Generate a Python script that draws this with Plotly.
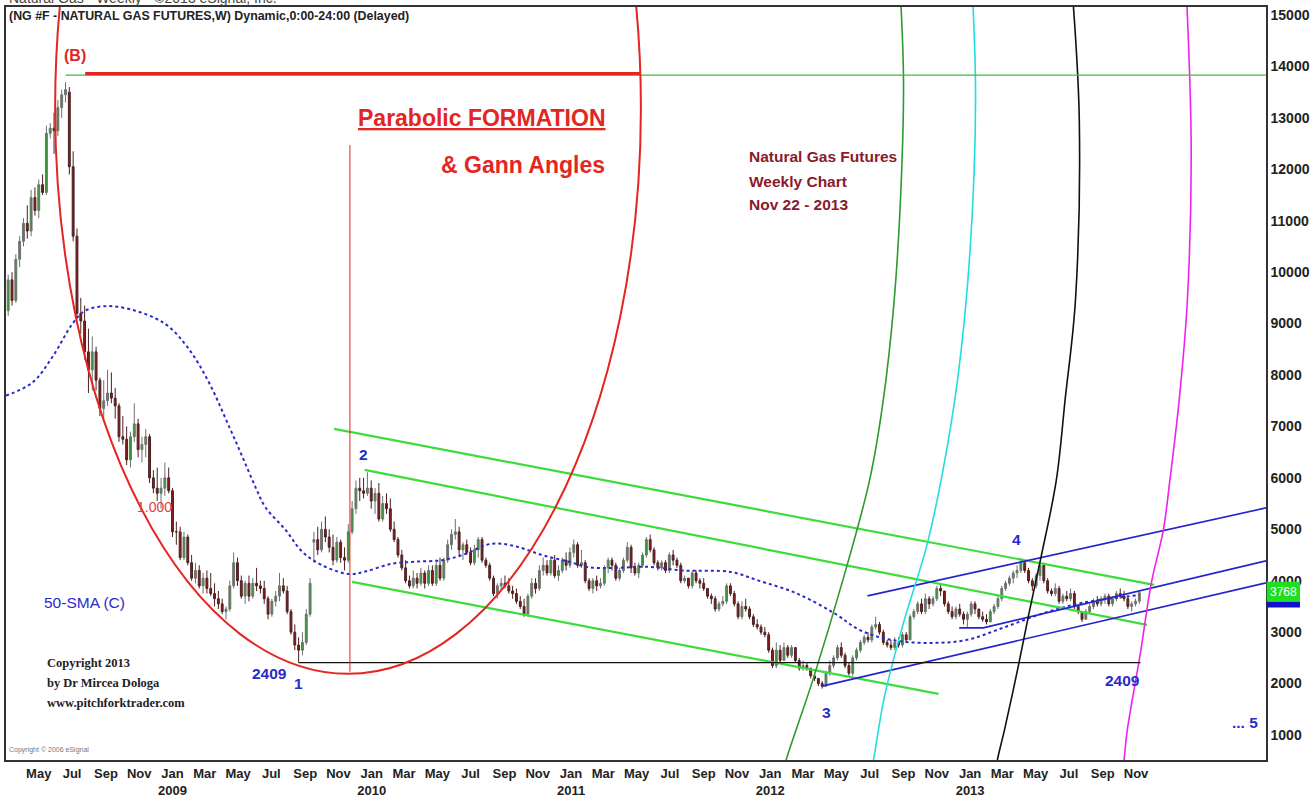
import pandas as pd
import plotly.graph_objects as go

# ---------------- data ----------------
FIRST_WEEK = "2008-03-21"
N_WEEKS = 297
week_dates = pd.date_range(FIRST_WEEK, periods=N_WEEKS, freq="W-FRI")

opens = [
    9250, 9850, 9450, 10250, 10600, 10950, 10800, 11450, 11200, 11700, 11550, 12700, 12800,
    12750, 13200, 13450, 13500, 12050, 10700, 9200, 9050, 8450, 8100, 8450, 7900, 7350,
    7500, 7650, 7550, 7400, 6800, 6750, 6350, 6800, 7050, 6550, 6650, 6800, 6000,
    5800, 5700,
    5800, 6000, 5750, 4950, 4950, 4450, 4850, 4350, 4050, 4200, 3900, 4050, 3850,
    3750, 3650, 3550, 3400, 3450, 3900, 4350, 4000, 3700, 3950, 3700, 3950, 3900,
    3850, 3650, 3350, 3600, 3700, 3900, 3800, 3400, 3000, 2750, 2650, 2800, 3350,
    4750, 4800, 4600, 5000, 4850, 4650, 4400, 4750, 4450, 4400, 4950, 5400, 5800,
    5750, 5700, 5800, 5550, 5700, 5200, 5500, 5400, 5000, 4800, 4500, 4250, 4000,
    3900, 4050, 3950, 4150, 3950, 4200, 3950, 4300, 4050, 4400, 4700, 4900, 4950,
    4600, 4700, 4550, 4350, 4600, 4800, 4400, 4300, 4050, 3750, 3900, 3950, 3900,
    3800, 3750, 3600, 3500, 3350, 3700, 3950, 3850, 4200, 4300, 4150, 4400, 4100,
    4200,
    4400, 4300, 4550, 4700, 4300, 4350, 4000, 3850, 4000, 3900, 3950, 4250, 4400,
    4300, 4050, 4200, 4400, 4650, 4250, 4150, 4300, 4500, 4800, 4600, 4350, 4250,
    4350, 4200, 4500, 4400, 4300, 4000, 4050, 3900, 4150, 4000, 3950, 3850, 3700,
    3650, 3450, 3550, 3600, 3900, 3750, 3550, 3300, 3500, 3450, 3300, 3150, 3100,
    3000, 2950, 2650, 2350, 2650, 2450, 2700, 2550, 2700, 2450, 2300, 2350, 2300,
    2150, 2100, 2000, 1950, 2200, 2350, 2500, 2700, 2550, 2350, 2200, 2500, 2650,
    2800, 2900, 2850, 3100, 3150, 3000, 2800, 2750, 2700, 2800, 2750, 2950, 2850,
    3300, 3400, 3550, 3400, 3650, 3550, 3650, 3850, 3800, 3550, 3400, 3300, 3450,
    3350, 3250, 3350, 3550, 3450, 3300, 3250, 3200, 3400, 3500, 3650, 3850, 3950,
    4050, 4150, 4200, 4350, 4200, 4000, 3900, 4100, 4300, 4000, 3800, 3750, 3850,
    3600, 3700, 3650, 3750, 3500, 3400, 3250, 3400, 3500, 3600, 3550, 3650, 3700,
    3550, 3650, 3750, 3700, 3650, 3500, 3550, 3600,
]
highs = [
    9950, 10000, 10350, 10700, 11050, 11300, 11600, 11650, 11800, 11900, 12850, 12900, 13100,
    13350, 13550, 13694, 13600, 12350, 10850, 9500, 9350, 8900, 8750, 8550, 7950, 7900,
    8100, 8050, 7750, 7450, 7200, 7000, 6900, 7450, 7150, 6800, 6950, 6850, 6150,
    6200, 6000,
    6300, 6200, 5800, 5150, 5050, 4950, 4900, 4500, 4350, 4300, 4150, 4200, 4150,
    3950, 3800, 3650, 3500, 4000, 4550, 4450, 4100, 4000, 4100, 4050, 4250, 4000,
    4000, 3700, 3650, 3800, 4150, 4050, 3900, 3450, 3150, 2900, 3000, 3450, 4050,
    4950, 5050, 5150, 5250, 5000, 4900, 4850, 4800, 4650, 5100, 5550, 5950, 6000,
    6000, 6108, 5950, 5800, 5900, 5650, 5700, 5600, 5150, 4850, 4600, 4400, 4100,
    4200, 4150, 4250, 4200, 4300, 4300, 4400, 4450, 4450, 4800, 5000, 5200, 5050,
    4750, 4800, 4650, 4700, 4850, 4850, 4450, 4350, 4100, 3950, 4050, 4100, 4050,
    3900, 3850, 3700, 3650, 3750, 4050, 4050, 4300, 4450, 4400, 4450, 4500, 4300,
    4450,
    4550, 4650, 4800, 4750, 4600, 4400, 4050, 4050, 4100, 4050, 4300, 4450, 4450,
    4350, 4250, 4450, 4750, 4700, 4350, 4350, 4550, 4850, 4900, 4650, 4400, 4400,
    4400, 4550, 4600, 4450, 4350, 4100, 4050, 4200, 4200, 4050, 4050, 3850, 3750,
    3700, 3600, 3700, 3950, 3950, 3800, 3600, 3600, 3650, 3500, 3350, 3250, 3150,
    3100, 3000, 2700, 2800, 2750, 2800, 2750, 2750, 2700, 2500, 2450, 2400, 2300,
    2200, 2100, 2050, 2250, 2450, 2550, 2750, 2800, 2600, 2400, 2550, 2700, 2850,
    2950, 3000, 3150, 3300, 3200, 3050, 2850, 2850, 2900, 2900, 3000, 3000, 3350,
    3450, 3600, 3650, 3750, 3700, 3700, 3900, 3950, 3800, 3600, 3500, 3500, 3550,
    3400, 3400, 3600, 3600, 3450, 3400, 3350, 3450, 3550, 3700, 3900, 4000, 4100,
    4200, 4300, 4440, 4400, 4250, 4050, 4150, 4350, 4350, 4050, 3850, 3950, 3900,
    3750, 3800, 3850, 3800, 3550, 3400, 3450, 3550, 3650, 3700, 3700, 3750, 3750,
    3700, 3800, 3850, 3800, 3700, 3600, 3650, 3800,
]
lows = [
    9150, 9350, 9400, 10100, 10500, 10650, 10700, 11100, 11050, 11500, 11500, 12600, 12300,
    12650, 13000, 13300, 11900, 10600, 9100, 8800, 8300, 7650, 7700, 7700, 7200, 7150,
    7400, 7450, 7150, 6700, 6650, 6250, 6200, 6700, 6400, 6300, 6400, 5900, 5700,
    5550, 5400,
    5650, 5700, 4850, 4700, 4400, 4400, 4300, 4000, 3950, 3850, 3750, 3750, 3700,
    3500, 3450, 3350, 3250, 3400, 3850, 3900, 3650, 3550, 3600, 3650, 3800, 3750,
    3550, 3250, 3300, 3500, 3600, 3750, 3350, 2950, 2650, 2409, 2550, 2750, 3300,
    4350, 4500, 4550, 4750, 4550, 4300, 4350, 4350, 4200, 4350, 4900, 5300, 5550,
    5600, 5650, 5400, 5300, 5150, 5150, 5300, 4950, 4750, 4450, 4200, 3950, 3850,
    3850, 3850, 3900, 3850, 3900, 3900, 3900, 4000, 4000, 4350, 4600, 4800, 4500,
    4400, 4500, 4300, 4300, 4450, 4350, 4250, 4000, 3700, 3650, 3800, 3850, 3750,
    3650, 3550, 3450, 3300, 3300, 3650, 3750, 3800, 4100, 4100, 4100, 4050, 4000,
    4150,
    4200, 4250, 4450, 4250, 4250, 3950, 3800, 3750, 3800, 3850, 3900, 4150, 4200,
    4000, 4000, 4150, 4350, 4150, 4100, 4050, 4250, 4450, 4550, 4300, 4200, 4200,
    4150, 4150, 4300, 4250, 3950, 3950, 3850, 3850, 3950, 3850, 3800, 3650, 3550,
    3400, 3400, 3500, 3550, 3700, 3500, 3250, 3250, 3400, 3250, 3100, 3050, 2950,
    2900, 2600, 2300, 2300, 2400, 2450, 2500, 2500, 2400, 2250, 2250, 2250, 2100,
    2050, 1950, 1902, 1950, 2150, 2300, 2450, 2500, 2300, 2150, 2150, 2450, 2600,
    2750, 2800, 2800, 3050, 2950, 2750, 2700, 2650, 2650, 2700, 2700, 2800, 2850,
    3250, 3350, 3350, 3350, 3450, 3500, 3600, 3700, 3500, 3350, 3250, 3250, 3300,
    3150, 3100, 3300, 3350, 3250, 3200, 3150, 3200, 3350, 3450, 3600, 3800, 3900,
    3950, 4050, 4150, 4150, 3950, 3800, 3850, 4000, 3950, 3750, 3700, 3700, 3550,
    3550, 3600, 3600, 3450, 3350, 3200, 3250, 3350, 3450, 3500, 3500, 3550, 3500,
    3500, 3600, 3650, 3600, 3450, 3400, 3500, 3550,
]
closes = [
    9850, 9450, 10250, 10600, 10950, 10800, 11450, 11200, 11700, 11550, 12700, 12800, 12750,
    13200, 13450, 13550, 12050, 10700, 9200, 9050, 8450, 8100, 8450, 7900, 7350, 7500,
    7650, 7550, 7400, 6800, 6750, 6350, 6800, 7050, 6550, 6650, 6800, 6000, 5800,
    5700, 5800,
    6000, 5750, 4950, 4950, 4450, 4850, 4350, 4050, 4200, 3900, 4050, 3850, 3750,
    3650, 3550, 3400, 3450, 3900, 4350, 4000, 3700, 3950, 3700, 3950, 3900, 3850,
    3650, 3350, 3600, 3700, 3900, 3800, 3400, 3000, 2750, 2650, 2800, 3350, 3950,
    4800, 4600, 5000, 4850, 4650, 4400, 4750, 4450, 4400, 4950, 5400, 5800, 5750,
    5700, 5800, 5550, 5700, 5200, 5500, 5400, 5000, 4800, 4500, 4250, 4000, 3900,
    4050, 3950, 4150, 3950, 4200, 3950, 4300, 4050, 4400, 4700, 4900, 4950, 4600,
    4700, 4550, 4350, 4600, 4800, 4400, 4300, 4050, 3750, 3900, 3950, 3900, 3800,
    3750, 3600, 3500, 3350, 3700, 3950, 3850, 4200, 4300, 4150, 4400, 4100, 4200,
    4400,
    4300, 4550, 4700, 4300, 4350, 4000, 3850, 4000, 3900, 3950, 4250, 4400, 4300,
    4050, 4200, 4400, 4650, 4250, 4150, 4300, 4500, 4800, 4600, 4350, 4250, 4350,
    4200, 4500, 4400, 4300, 4000, 4050, 3900, 4150, 4000, 3950, 3850, 3700, 3650,
    3450, 3550, 3600, 3900, 3750, 3550, 3300, 3500, 3450, 3300, 3150, 3100, 3000,
    2950, 2650, 2350, 2650, 2450, 2700, 2550, 2700, 2450, 2300, 2350, 2300, 2150,
    2100, 2000, 1950, 2200, 2350, 2500, 2700, 2550, 2350, 2200, 2500, 2650, 2800,
    2900, 2850, 3100, 3150, 3000, 2800, 2750, 2700, 2800, 2750, 2950, 2850, 3300,
    3400, 3550, 3400, 3650, 3550, 3650, 3850, 3800, 3550, 3400, 3300, 3450, 3350,
    3250, 3350, 3550, 3450, 3300, 3250, 3200, 3400, 3500, 3650, 3850, 3950, 4050,
    4150, 4200, 4350, 4200, 4000, 3900, 4100, 4300, 4000, 3800, 3750, 3850, 3600,
    3700, 3650, 3750, 3500, 3400, 3250, 3400, 3500, 3600, 3550, 3650, 3700, 3550,
    3650, 3750, 3700, 3650, 3500, 3550, 3600, 3768,
]

# 50-period simple moving average
sma_dates = ["2008-03-17", "2008-05-04", "2008-06-10", "2008-07-17", "2008-08-09", "2008-09-22",
             "2008-11-09", "2008-12-16", "2009-01-10", "2009-02-16", "2009-03-24", "2009-04-30",
             "2009-05-24", "2009-06-17", "2009-07-05", "2009-08-11", "2009-09-11", "2009-10-17",
             "2009-12-06", "2010-01-04", "2010-02-22", "2010-04-06", "2010-05-25", "2010-07-01",
             "2010-08-24", "2010-10-06", "2010-11-24", "2011-01-12", "2011-02-18", "2011-04-07",
             "2011-06-08", "2011-08-07", "2011-11-05", "2011-12-23", "2012-03-03", "2012-05-12",
             "2012-06-28", "2012-08-24", "2012-11-02", "2013-01-10", "2013-03-21", "2013-05-31",
             "2013-08-09", "2013-11-22"]
sma_values = [7600, 7850, 8350, 9000, 9250, 9340, 9250, 9100, 8935, 8490, 7850, 6990,
              6410, 5820, 5430, 4990, 4560, 4300, 4130, 4180, 4330, 4370, 4400, 4500,
              4720, 4670, 4500, 4370, 4260, 4250, 4270, 4200, 4170, 4010, 3760, 3370,
              3040, 2850, 2790, 2850, 3100, 3370, 3570, 3720]

# drawn study lines (date, price)
green_channel = {
    "upper": (["2009-11-08", "2013-12-19"], [6952, 3919]),
    "middle": (["2010-01-03", "2013-12-06"], [6155, 3142]),
    "lower": (["2009-12-11", "2012-11-19"], [3978, 1800]),
}
blue_channel = {
    "upper": (["2012-07-12", "2014-07-12"], [3705, 5416]),
    "middle": (["2012-12-27", "2013-02-09", "2014-07-12"], [3083, 3083, 4386]),
    "lower": (["2012-04-20", "2014-07-12"], [1950, 3958]),
}
time_arcs = {
    "#2e9a2e": (["2012-09-10", "2012-09-16", "2012-09-12", "2012-08-30", "2012-08-10", "2012-07-16",
                 "2012-05-28", "2012-04-03", "2012-02-14", "2012-02-07"],
                [15486, 13736, 11792, 9460, 7516, 5960, 4016, 2072, 517, 226]),
    "#22dede": (["2013-01-20", "2013-01-26", "2013-01-16", "2012-12-24", "2012-11-24", "2012-10-28",
                 "2012-09-16", "2012-08-12", "2012-07-23", "2012-07-17"],
                [15486, 13348, 10432, 7904, 5960, 4658, 3180, 1742, 517, 226]),
    "#111111": (["2013-07-22", "2013-08-04", "2013-07-28", "2013-07-09", "2013-06-23", "2013-05-26",
                 "2013-05-04", "2013-04-14", "2013-03-20", "2013-03-07", "2013-03-03"],
                [15486, 12959, 9460, 7516, 5960, 4463, 3375, 2325, 1100, 517, 226]),
    "#ee22ee": (["2014-02-16", "2014-02-25", "2014-02-18", "2014-02-03", "2014-01-17", "2014-01-05",
                 "2013-12-14", "2013-11-24", "2013-10-31", "2013-10-25", "2013-10-22"],
                [15486, 12376, 9460, 7516, 5960, 4988, 3958, 2597, 1100, 517, 226]),
}
peak_level = 13830
low_level = 2409
last_price = 3768

y_ticks = list(range(1000, 16000, 1000))
tick_months = pd.date_range("2008-05-01", "2013-11-01", freq="2MS")
tick_vals = [d + pd.Timedelta(days=15) for d in tick_months]
tick_text = [d.strftime("%b") + (f"<br>{d.year}" if d.month == 1 else "") for d in tick_months]

# ---------------- figure ----------------
SANS = "Liberation Sans, Arial, sans-serif"
SERIF = "Liberation Serif, Times New Roman, serif"
BLUE = "#2a2acc"
RED = "#e3261f"

fig = go.Figure()

fig.add_trace(go.Candlestick(
    x=week_dates, open=opens, high=highs, low=lows, close=closes,
    increasing=dict(line=dict(color="#707070", width=1), fillcolor="#2f9e2f"),
    decreasing=dict(line=dict(color="#4a2020", width=1), fillcolor="#8e1b1b"),
    whiskerwidth=0, showlegend=False, hoverinfo="skip"))

fig.add_trace(go.Scatter(x=sma_dates, y=sma_values, mode="lines", line_shape="spline",
                         line=dict(color=BLUE, width=2, dash="dot"), showlegend=False,
                         hoverinfo="skip"))

for xs, ys in green_channel.values():
    fig.add_trace(go.Scatter(x=xs, y=ys, mode="lines", line=dict(color="#3ddc3d", width=2.2),
                             showlegend=False, hoverinfo="skip"))
for xs, ys in blue_channel.values():
    fig.add_trace(go.Scatter(x=xs, y=ys, mode="lines", line=dict(color="#2424cc", width=1.6),
                             showlegend=False, hoverinfo="skip"))
for color, (xs, ys) in time_arcs.items():
    fig.add_trace(go.Scatter(x=xs, y=ys, mode="lines", line_shape="spline",
                             line=dict(color=color, width=1.6), showlegend=False, hoverinfo="skip"))

# horizontal levels
fig.add_trace(go.Scatter(x=["2008-07-04", "2014-07-20"], y=[peak_level, peak_level], mode="lines",
                         line=dict(color="#44bb44", width=1.2), showlegend=False, hoverinfo="skip"))
fig.add_trace(go.Scatter(x=["2008-08-09", "2011-05-24"], y=[peak_level + 30, peak_level + 30],
                         mode="lines", line=dict(color=RED, width=3.2), showlegend=False,
                         hoverinfo="skip"))
fig.add_trace(go.Scatter(x=["2009-09-04", "2013-11-24"], y=[low_level, low_level], mode="lines",
                         line=dict(color="#111111", width=1.2), showlegend=False, hoverinfo="skip"))
fig.add_trace(go.Scatter(x=["2009-12-07", "2009-12-07"], y=[12470, 2230], mode="lines",
                         line=dict(color=RED, width=1), showlegend=False, hoverinfo="skip"))

# parabolic ellipse
fig.add_shape(type="circle", xref="x", yref="y", x0="2008-06-15", x1="2011-05-24",
              y0=2190, y1=24195, line=dict(color=RED, width=2))

# last price tag on the axis
fig.add_shape(type="rect", xref="paper", yref="y", x0=1.0006, x1=1.027, y0=3590, y1=3980,
              fillcolor="#22dd22", line=dict(width=0), layer="above")
fig.add_shape(type="rect", xref="paper", yref="y", x0=1.0006, x1=1.027, y0=3480, y1=3590,
              fillcolor="#1010cc", line=dict(width=0), layer="above")
fig.add_annotation(xref="paper", yref="y", x=1.0012, y=3790, text=f"{last_price}", showarrow=False,
                   xanchor="left", font=dict(family=SANS, size=12, color="white"))


def txt(x, y, text, size, color, xref="x", yref="y", xanchor="center", family=SANS):
    fig.add_annotation(x=x, y=y, xref=xref, yref=yref, text=text, showarrow=False,
                       xanchor=xanchor, yanchor="middle", align="left",
                       font=dict(family=family, size=size, color=color))


# header lines
txt(0.0008, 1.0125, "Natural Gas - Weekly - ©2013 eSignal, Inc.", 14, "#444",
    xref="paper", yref="paper", xanchor="left")
txt(0.0008, 0.988, "<b>(NG #F - NATURAL GAS FUTURES,W) Dynamic,0:00-24:00 (Delayed)</b>", 12.4,
    "#222", xref="paper", yref="paper", xanchor="left")

txt(0.3778, 0.8526, "<b><u>Parabolic FORMATION</u></b>", 23, RED, xref="paper", yref="paper")
txt(0.4103, 0.7902, "<b>& Gann Angles</b>", 23, RED, xref="paper", yref="paper")
for py, line in zip([0.8008, 0.7689, 0.7371], ["Natural Gas Futures", "Weekly Chart", "Nov 22 - 2013"]):
    txt(0.5881, py, f"<b>{line}</b>", 15.5, "#8b1a2a", xref="paper", yref="paper", xanchor="left")
txt(0.0286, 0.2085, "50-SMA (C)", 15.5, BLUE, xref="paper", yref="paper", xanchor="left")
for py, line in zip([0.1288, 0.1023, 0.0757],
                    ["Copyright 2013", "by Dr Mircea Dologa", "www.pitchforktrader.com"]):
    txt(0.031, py, f"<b>{line}</b>", 12.5, "#222", xref="paper", yref="paper", xanchor="left",
        family=SERIF)
txt(0.0008, 0.0133, "Copyright © 2006 eSignal", 7, "#777", xref="paper", yref="paper",
    xanchor="left")

# wave labels
txt("2008-07-22", 14222, "<b>(B)</b>", 16, RED)
txt("2008-12-14", 5435, "1.000", 14, "#e04040")
txt("2010-01-01", 6450, "<b>2</b>", 15.5, BLUE)
txt("2009-07-12", 2190, "<b>2409</b>", 15.5, BLUE)
txt("2009-09-04", 2000, "<b>1</b>", 15.5, BLUE)
txt("2012-04-28", 1430, "<b>3</b>", 15.5, BLUE)
txt("2013-04-11", 4794, "<b>4</b>", 15.5, BLUE)
txt("2013-10-22", 2053, "<b>2409</b>", 15.5, BLUE)
txt("2014-06-03", 1236, "<b>... 5</b>", 15.5, BLUE)

fig.update_layout(
    width=1314, height=798,
    margin=dict(l=6, r=48, t=7, b=38, autoexpand=False),
    paper_bgcolor="white", plot_bgcolor="white",
    showlegend=False, hovermode=False,
    xaxis=dict(range=["2008-03-17", "2014-07-12"], showgrid=False, zeroline=False, automargin=False,
               rangeslider=dict(visible=False), showline=True, linecolor="#333", linewidth=2,
               mirror=True, ticks="", tickvals=tick_vals, ticktext=tick_text,
               tickfont=dict(family=SANS, size=13, color="#222", weight="bold")),
    yaxis=dict(range=[514, 15156], side="right", showgrid=False, zeroline=False, automargin=False,
               showline=True, linecolor="#333", linewidth=1.5, mirror=True, ticks="",
               tickvals=y_ticks, ticktext=[str(v) for v in y_ticks],
               tickfont=dict(family=SANS, size=14, color="#222", weight="bold")),
)

fig.write_html("out.html", config={"displayModeBar": False},
               post_script="document.body.style.margin='0px';document.body.style.overflow='hidden';")
